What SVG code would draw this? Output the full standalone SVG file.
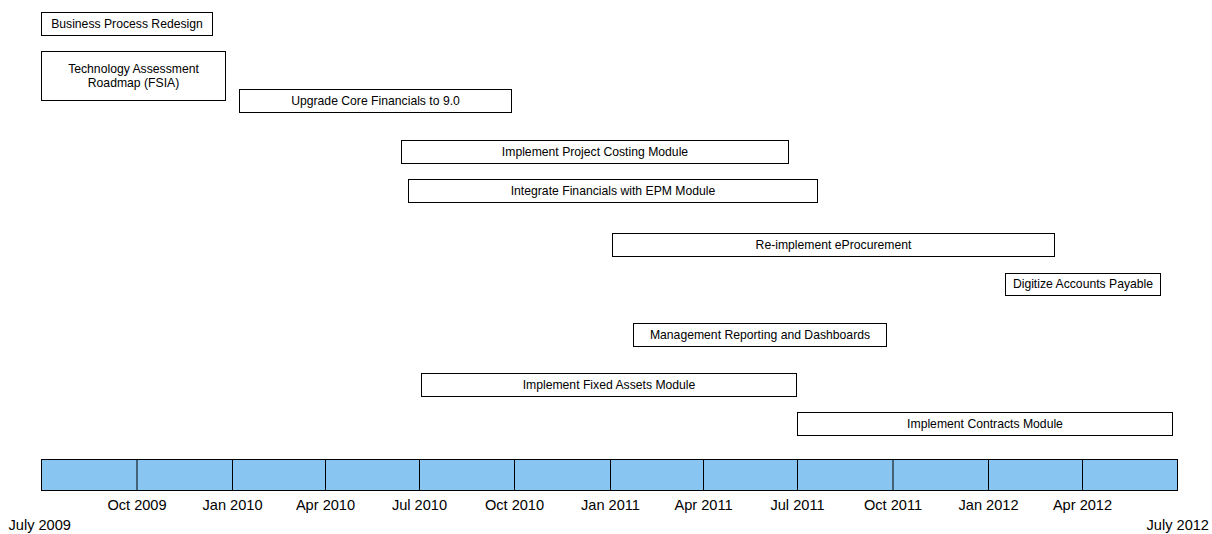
<svg xmlns="http://www.w3.org/2000/svg" width="1212" height="534" viewBox="0 0 1212 534">
<style>
.box{fill:#fff;stroke:#000;stroke-width:1}
.t{font-family:"Liberation Sans",Arial,sans-serif;font-size:12.2px;fill:#000;text-anchor:middle}
.ax{font-family:"Liberation Sans",Arial,sans-serif;font-size:14.6px;fill:#000;text-anchor:middle}
.bar{fill:#88C6F1;stroke:#000;stroke-width:1}
.div{stroke:#000;stroke-width:1}
</style>
<rect width="1212" height="534" fill="#fff"/>
<g id="n1"><rect class="box" x="41.5" y="12.5" width="171" height="23"/><text class="t" x="127" y="27.9">Business Process Redesign</text></g>
<g id="n2"><rect class="box" x="41.5" y="51.5" width="184" height="49"/><text class="t" x="133.5" y="73.1">Technology Assessment</text><text class="t" x="133.5" y="87.1">Roadmap (FSIA)</text></g>
<g id="n3"><rect class="box" x="239.5" y="89.5" width="272" height="23"/><text class="t" x="375.5" y="105.4">Upgrade Core Financials to 9.0</text></g>
<g id="n4"><rect class="box" x="401.5" y="140.5" width="387" height="23"/><text class="t" x="595" y="155.9">Implement Project Costing Module</text></g>
<g id="n5"><rect class="box" x="408.5" y="179.5" width="409" height="23"/><text class="t" x="613" y="194.9">Integrate Financials with EPM Module</text></g>
<g id="n6"><rect class="box" x="612.5" y="233.5" width="442" height="23"/><text class="t" x="833.5" y="248.9">Re-implement eProcurement</text></g>
<g id="n7"><rect class="box" x="1005.5" y="273.5" width="155" height="22"/><text class="t" x="1083" y="288.4">Digitize Accounts Payable</text></g>
<g id="n8"><rect class="box" x="633.5" y="323.5" width="253" height="23"/><text class="t" x="760" y="338.9">Management Reporting and Dashboards</text></g>
<g id="n9"><rect class="box" x="421.5" y="373.5" width="375" height="23"/><text class="t" x="609" y="389.4">Implement Fixed Assets Module</text></g>
<g id="n10"><rect class="box" x="797.5" y="412.5" width="375" height="23"/><text class="t" x="985" y="428.4">Implement Contracts Module</text></g>
<g id="timeline">
<rect class="bar" x="41.5" y="459.5" width="1136" height="31"/>
<line class="div" x1="137" y1="459.5" x2="137" y2="490.5"/>
<line class="div" x1="232.5" y1="459.5" x2="232.5" y2="490.5"/>
<line class="div" x1="325.5" y1="459.5" x2="325.5" y2="490.5"/>
<line class="div" x1="419.5" y1="459.5" x2="419.5" y2="490.5"/>
<line class="div" x1="514.5" y1="459.5" x2="514.5" y2="490.5"/>
<line class="div" x1="610.5" y1="459.5" x2="610.5" y2="490.5"/>
<line class="div" x1="703.5" y1="459.5" x2="703.5" y2="490.5"/>
<line class="div" x1="797.5" y1="459.5" x2="797.5" y2="490.5"/>
<line class="div" x1="893" y1="459.5" x2="893" y2="490.5"/>
<line class="div" x1="988.5" y1="459.5" x2="988.5" y2="490.5"/>
<line class="div" x1="1082.5" y1="459.5" x2="1082.5" y2="490.5"/>
<text class="ax" x="137" y="510">Oct 2009</text>
<text class="ax" x="232.5" y="510">Jan 2010</text>
<text class="ax" x="325.5" y="510">Apr 2010</text>
<text class="ax" x="419.5" y="510">Jul 2010</text>
<text class="ax" x="514.5" y="510">Oct 2010</text>
<text class="ax" x="610.5" y="510">Jan 2011</text>
<text class="ax" x="703.5" y="510">Apr 2011</text>
<text class="ax" x="797.5" y="510">Jul 2011</text>
<text class="ax" x="893" y="510">Oct 2011</text>
<text class="ax" x="988.5" y="510">Jan 2012</text>
<text class="ax" x="1082.5" y="510">Apr 2012</text>
<text class="ax" x="8.5" y="530" style="text-anchor:start">July 2009</text>
<text class="ax" x="1209" y="530" style="text-anchor:end">July 2012</text>
</g>
<g id="connectors"></g>
</svg>
